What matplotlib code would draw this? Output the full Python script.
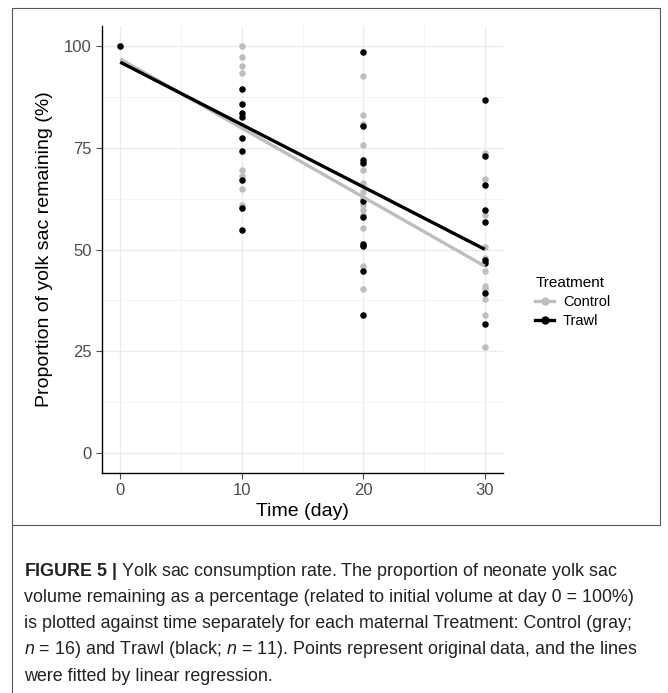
import numpy as np
import matplotlib.pyplot as plt
from matplotlib.lines import Line2D
from matplotlib.patches import Rectangle

plt.rcParams['font.family'] = ['Liberation Sans', 'DejaVu Sans']
plt.rcParams['mathtext.fontset'] = 'custom'
plt.rcParams['mathtext.rm'] = 'Liberation Sans'
plt.rcParams['mathtext.it'] = 'Liberation Sans:italic'
plt.rcParams['mathtext.bf'] = 'Liberation Sans:bold'

# data
days = [0, 10, 20, 30]
control_pts = {
    0: [100],
    10: [100, 97.3, 95.2, 93.4, 80.5, 69.5, 68.2, 64.8, 61.0, 60.3],
    20: [92.8, 83.2, 80.8, 75.6, 69.5, 66.3, 64.2, 62.6, 61.0, 59.6, 58.6, 55.3, 46.0, 40.4],
    30: [73.8, 67.4, 58.6, 50.5, 48.0, 44.6, 41.0, 40.3, 37.7, 33.8, 25.9],
}
trawl_pts = {
    0: [100],
    10: [89.5, 85.7, 83.5, 82.6, 77.4, 74.2, 67.2, 60.2, 54.9],
    20: [98.5, 80.4, 72.1, 71.2, 62.0, 58.1, 51.3, 50.8, 44.8, 33.8],
    30: [86.7, 73.0, 65.8, 59.6, 56.8, 47.5, 46.7, 39.4, 31.6],
}
# fitted lines (intercept, slope)
control_fit = (96.9, -1.70)
trawl_fit = (96.1, -1.535)

gray = '#BEBEBE'
black = '#000000'

fig = plt.figure(figsize=(6.68, 6.93), dpi=100)
W, H = 668, 693

# frame around figure
fig.add_artist(Rectangle((12 / W, 1 - 525 / H), 648 / W, 517 / H, transform=fig.transFigure,
                         fill=False, edgecolor='#555555', linewidth=0.8))
fig.add_artist(Line2D([12 / W, 12 / W], [0, 1 - 525 / H], transform=fig.transFigure,
                      color='#555555', linewidth=0.8))

ax = fig.add_axes([102 / W, 1 - 473 / H, 401 / W, 447 / H])
ax.set_xlim(-1.5, 31.5)
ax.set_ylim(-5, 105)

# grid
for v in [0, 25, 50, 75, 100]:
    ax.axhline(v, color='#EBEBEB', lw=1.0, zorder=0)
for v in [12.5, 37.5, 62.5, 87.5]:
    ax.axhline(v, color='#F3F3F3', lw=0.6, zorder=0)
for v in days:
    ax.axvline(v, color='#EBEBEB', lw=1.0, zorder=0)
for v in [5, 15, 25]:
    ax.axvline(v, color='#F3F3F3', lw=0.6, zorder=0)

xs = np.array([0, 30])
for pts, col in [(control_pts, gray), (trawl_pts, black)]:
    for d in days:
        ax.scatter([d] * len(pts[d]), pts[d], s=22, color=col, zorder=3, linewidths=0)
for fit, col in [(control_fit, gray), (trawl_fit, black)]:
    ax.plot(xs, fit[0] + fit[1] * xs, color=col, lw=2.4, zorder=4, solid_capstyle='butt')

ax.set_xticks(days)
ax.set_yticks([0, 25, 50, 75, 100])
ax.tick_params(labelsize=12, colors='#4D4D4D', length=4, width=0.8)
for s in ['top', 'right']:
    ax.spines[s].set_visible(False)
for s in ['left', 'bottom']:
    ax.spines[s].set_linewidth(1.0)
ax.set_xlabel('Time (day)', fontsize=14, labelpad=3)
ax.set_ylabel('Proportion of yolk sac remaining (%)', fontsize=14, labelpad=8)

handles = [Line2D([], [], color=gray, lw=2.4, marker='o', markersize=5),
           Line2D([], [], color=black, lw=2.4, marker='o', markersize=5)]
fig.legend(handles, ['Control', 'Trawl'], title='Treatment', loc='upper left',
           bbox_to_anchor=(522 / W, 1 - 263 / H), frameon=False, fontsize=10.5,
           title_fontsize=11, handlelength=1.3, handletextpad=0.6,
           alignment='left', labelspacing=0.35)

caption = [
    r'$\bf{FIGURE\ 5\ |}$ Yolk sac consumption rate. The proportion of neonate yolk sac',
    'volume remaining as a percentage (related to initial volume at day 0 = 100%)',
    'is plotted against time separately for each maternal Treatment: Control (gray;',
    r'$\it{n}$ = 16) and Trawl (black; $\it{n}$ = 11). Points represent original data, and the lines',
    'were fitted by linear regression.',
]
for i, line in enumerate(caption):
    fig.text(24 / W, 1 - (571 + 26.3 * i) / H, line, fontsize=12.9, va='center', ha='left',
             color='#222222')

fig.savefig('out.png', dpi=100)
